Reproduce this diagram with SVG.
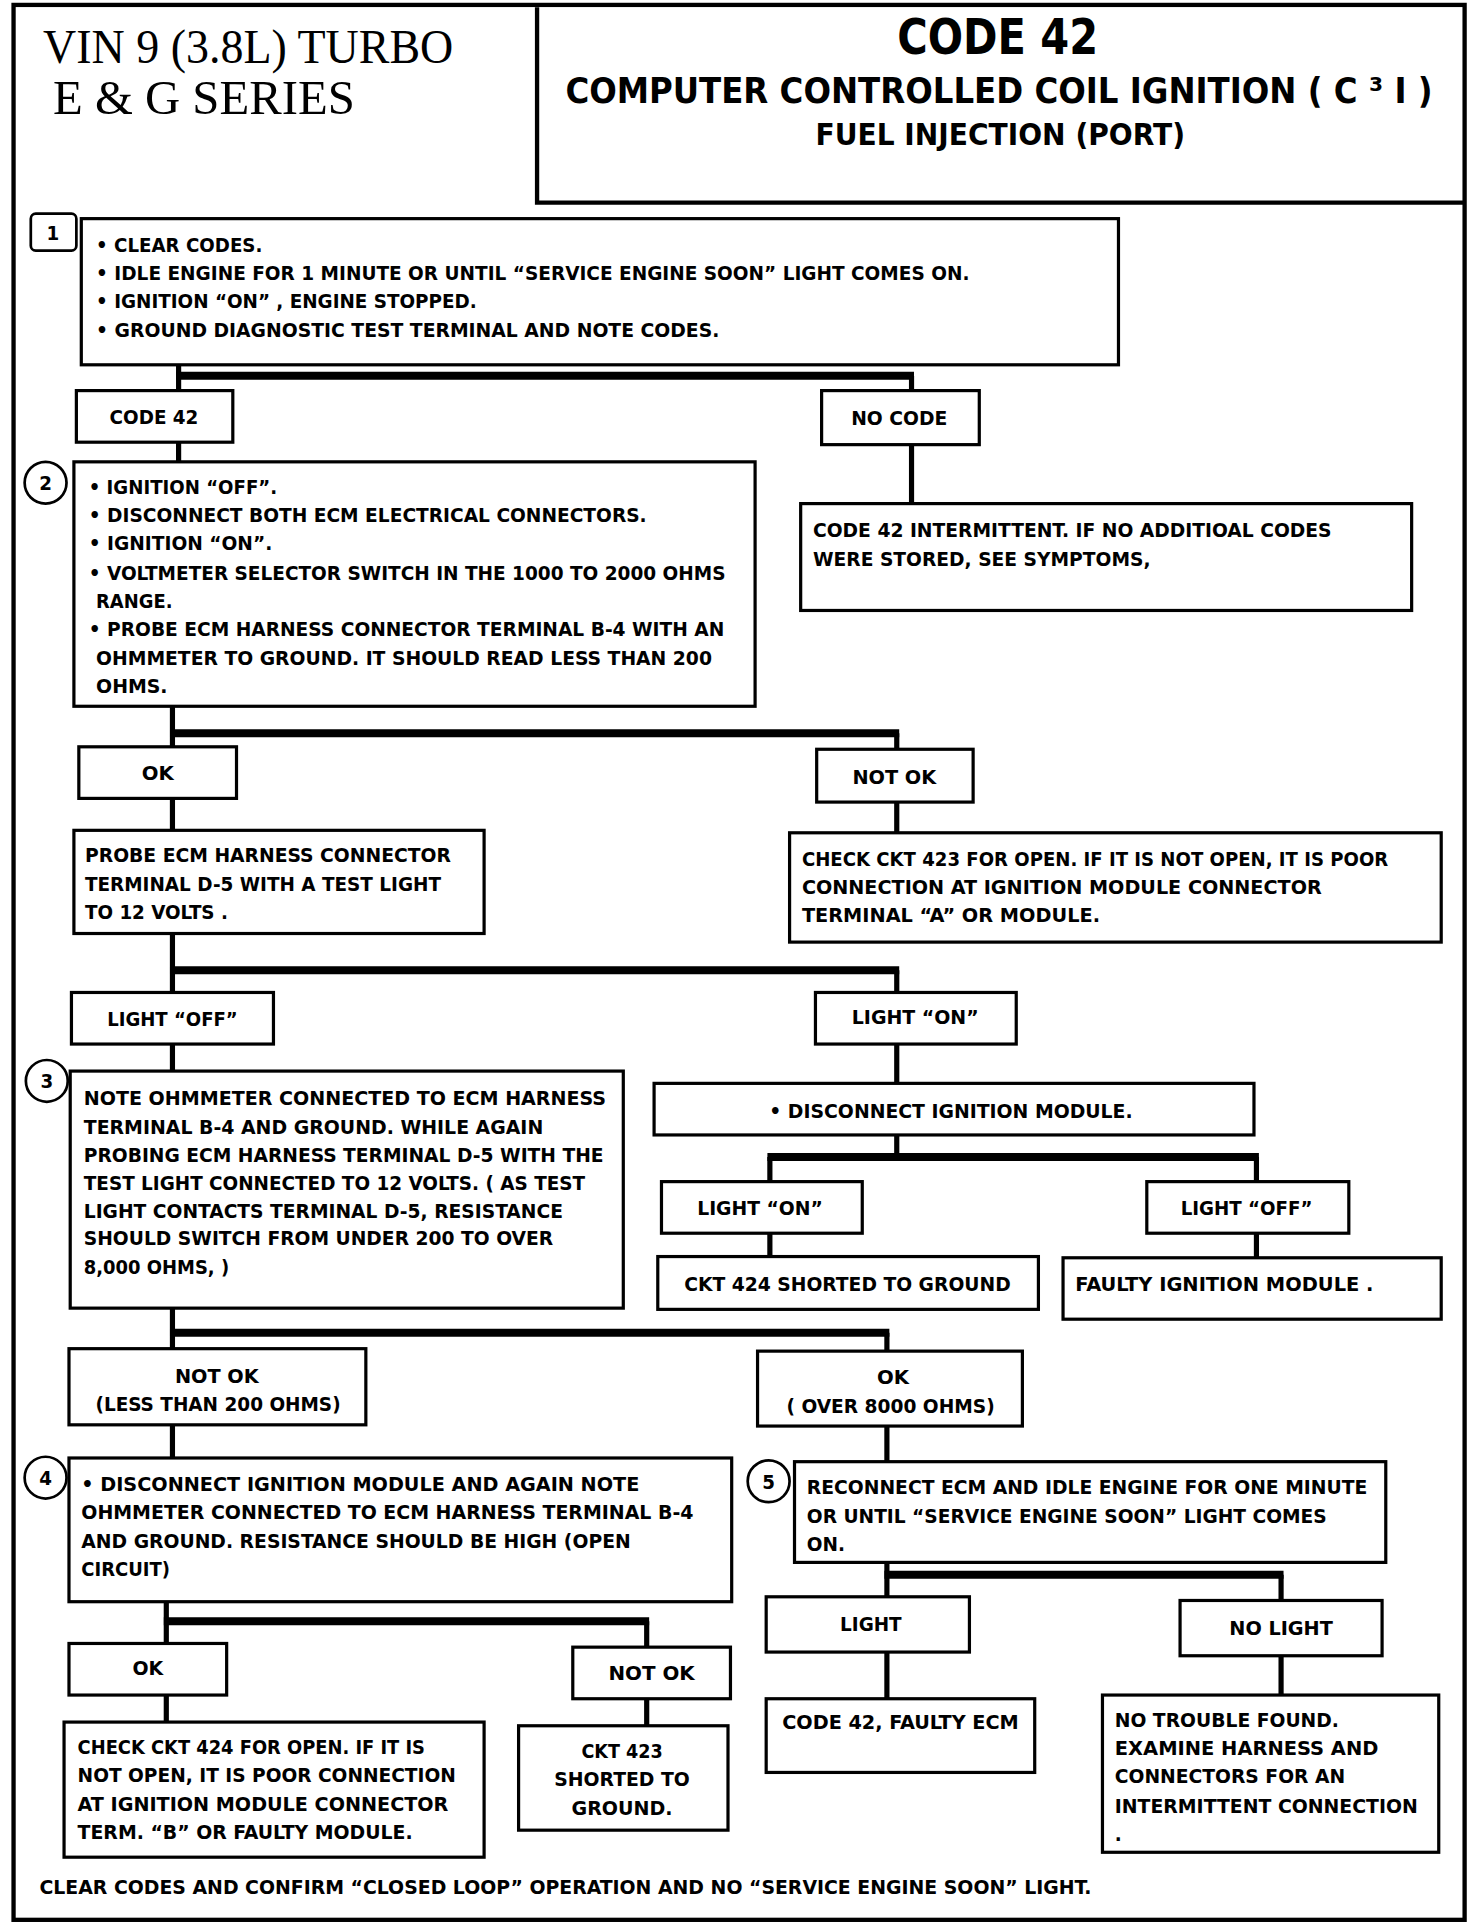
<svg xmlns="http://www.w3.org/2000/svg" width="1472" height="1926" viewBox="0 0 1472 1926">
<style>
.box{fill:#fff;stroke:#000;stroke-width:2.6}
.frame{fill:none;stroke:#000;stroke-width:3.5}
.t{font-family:"DejaVu Sans Condensed","DejaVu Sans","Liberation Sans",sans-serif;font-weight:bold;font-size:16.5px;fill:#000}
.m{text-anchor:middle}
.hd{font-family:"DejaVu Sans Condensed","DejaVu Sans","Liberation Sans",sans-serif;font-weight:bold;fill:#000}
.sf{font-family:"Liberation Serif","DejaVu Serif",serif;font-size:39px;fill:#000}
.v{stroke:#000;stroke-width:4.2;fill:none}
.bus{stroke:#000;stroke-width:6.5;fill:none}
.step{fill:#fff;stroke:#000;stroke-width:2.2}
</style>
<rect width="1472" height="1926" fill="#fff"/>
<g transform="scale(1.2318 1.2283)">
<g id="frame">
<rect class="frame" x="11" y="4" width="1178" height="1559"/>
<path class="frame" d="M436 6 V165 H1189"/>
</g>
<g id="header">
<text class="sf" x="35" y="51" textLength="333" lengthAdjust="spacingAndGlyphs">VIN 9 (3.8L) TURBO</text>
<text class="sf" x="43" y="93" textLength="245" lengthAdjust="spacingAndGlyphs">E &amp; G SERIES</text>
<text class="hd m" x="810" y="44" font-size="40" textLength="163" lengthAdjust="spacingAndGlyphs">CODE 42</text>
<text class="hd" x="459" y="84" font-size="28.5" textLength="704" lengthAdjust="spacingAndGlyphs">COMPUTER CONTROLLED COIL IGNITION ( C ³ I )</text>
<text class="hd m" x="812" y="118" font-size="25" textLength="300" lengthAdjust="spacingAndGlyphs">FUEL INJECTION (PORT)</text>
</g>
<g id="connectors">
<path class="v" d="M145 297 V318 M740 306 V318"/><path class="bus" d="M143 306 H742"/>
<path class="v" d="M145 360 V376"/>
<path class="v" d="M740 362 V410"/>
<path class="v" d="M140 575 V608 M728 597 V610"/><path class="bus" d="M138 597 H730"/>
<path class="v" d="M140 650 V676 M728 653 V678"/>
<path class="v" d="M140 760 V808 M728 790 V808"/><path class="bus" d="M138 790 H730"/>
<path class="v" d="M140 850 V872 M728 850 V882"/>
<path class="v" d="M728 924 V942 M625 942 V962 M1020 942 V962"/><path class="bus" d="M623 942 H1022"/>
<path class="v" d="M625 1004 V1023 M1020 1004 V1024"/>
<path class="v" d="M140 1065 V1098 M720 1085 V1100"/><path class="bus" d="M138 1085 H722"/>
<path class="v" d="M140 1160 V1187 M720 1161 V1190"/>
<path class="v" d="M135 1304 V1338 M525 1320 V1341"/><path class="bus" d="M133 1320 H527"/>
<path class="v" d="M135 1380 V1402 M525 1383 V1405"/>
<path class="v" d="M720 1272 V1300 M1040 1282 V1303"/><path class="bus" d="M718 1282 H1042"/>
<path class="v" d="M720 1345 V1383 M1040 1348 V1380"/>
</g>
<g id="step1">
<rect class="step" x="25" y="174" width="37" height="30" rx="4"/>
<text class="t m" x="43" y="195">1</text>
</g>
<g id="box1">
<rect class="box" x="66" y="178" width="842" height="119"/>
<text class="t" x="78" y="205" textLength="135" lengthAdjust="spacingAndGlyphs">• CLEAR CODES.</text>
<text class="t" x="78" y="228" textLength="709" lengthAdjust="spacingAndGlyphs">• IDLE ENGINE FOR 1 MINUTE OR UNTIL “SERVICE ENGINE SOON” LIGHT COMES ON.</text>
<text class="t" x="78" y="251" textLength="309" lengthAdjust="spacingAndGlyphs">• IGNITION “ON” , ENGINE STOPPED.</text>
<text class="t" x="78" y="274" textLength="506" lengthAdjust="spacingAndGlyphs">• GROUND DIAGNOSTIC TEST TERMINAL AND NOTE CODES.</text>
</g>
<g id="code42">
<rect class="box" x="62" y="318" width="127" height="42"/>
<text class="t m" x="125" y="345" textLength="72" lengthAdjust="spacingAndGlyphs">CODE 42</text>
</g>
<g id="nocode">
<rect class="box" x="667" y="318" width="128" height="44"/>
<text class="t m" x="730" y="346" textLength="78" lengthAdjust="spacingAndGlyphs">NO CODE</text>
</g>
<g id="intermittent">
<rect class="box" x="650" y="410" width="496" height="87"/>
<text class="t" x="660" y="437" textLength="421" lengthAdjust="spacingAndGlyphs">CODE 42 INTERMITTENT. IF NO ADDITIOAL CODES</text>
<text class="t" x="660" y="461" textLength="274" lengthAdjust="spacingAndGlyphs">WERE STORED, SEE SYMPTOMS,</text>
</g>
<g id="step2">
<circle class="step" cx="37" cy="393" r="17"/>
<text class="t m" x="37" y="399">2</text>
</g>
<g id="box2">
<rect class="box" x="60" y="376" width="553" height="199"/>
<text class="t" x="72" y="402" textLength="153" lengthAdjust="spacingAndGlyphs">• IGNITION “OFF”.</text>
<text class="t" x="72" y="425" textLength="453" lengthAdjust="spacingAndGlyphs">• DISCONNECT BOTH ECM ELECTRICAL CONNECTORS.</text>
<text class="t" x="72" y="448" textLength="149" lengthAdjust="spacingAndGlyphs">• IGNITION “ON”.</text>
<text class="t" x="72" y="472" textLength="517" lengthAdjust="spacingAndGlyphs">• VOLTMETER SELECTOR SWITCH IN THE 1000 TO 2000 OHMS</text>
<text class="t" x="78" y="495" textLength="62" lengthAdjust="spacingAndGlyphs">RANGE.</text>
<text class="t" x="72" y="518" textLength="516" lengthAdjust="spacingAndGlyphs">• PROBE ECM HARNESS CONNECTOR TERMINAL B-4 WITH AN</text>
<text class="t" x="78" y="541" textLength="500" lengthAdjust="spacingAndGlyphs">OHMMETER TO GROUND. IT SHOULD READ LESS THAN 200</text>
<text class="t" x="78" y="564" textLength="58" lengthAdjust="spacingAndGlyphs">OHMS.</text>
</g>
<g id="ok1">
<rect class="box" x="64" y="608" width="128" height="42"/>
<text class="t m" x="128" y="635" textLength="26" lengthAdjust="spacingAndGlyphs">OK</text>
</g>
<g id="notok1">
<rect class="box" x="663" y="610" width="127" height="43"/>
<text class="t m" x="726" y="638" textLength="68" lengthAdjust="spacingAndGlyphs">NOT OK</text>
</g>
<g id="probe">
<rect class="box" x="60" y="676" width="333" height="84"/>
<text class="t" x="69" y="702" textLength="297" lengthAdjust="spacingAndGlyphs">PROBE ECM HARNESS CONNECTOR</text>
<text class="t" x="69" y="725" textLength="289" lengthAdjust="spacingAndGlyphs">TERMINAL D-5 WITH A TEST LIGHT</text>
<text class="t" x="69" y="748" textLength="116" lengthAdjust="spacingAndGlyphs">TO 12 VOLTS .</text>
</g>
<g id="check423">
<rect class="box" x="641" y="678" width="529" height="89"/>
<text class="t" x="651" y="705" textLength="476" lengthAdjust="spacingAndGlyphs">CHECK CKT 423 FOR OPEN. IF IT IS NOT OPEN, IT IS POOR</text>
<text class="t" x="651" y="728" textLength="422" lengthAdjust="spacingAndGlyphs">CONNECTION AT IGNITION MODULE CONNECTOR</text>
<text class="t" x="651" y="751" textLength="242" lengthAdjust="spacingAndGlyphs">TERMINAL “A” OR MODULE.</text>
</g>
<g id="lightoff1">
<rect class="box" x="58" y="808" width="164" height="42"/>
<text class="t m" x="140" y="835" textLength="106" lengthAdjust="spacingAndGlyphs">LIGHT “OFF”</text>
</g>
<g id="lighton1">
<rect class="box" x="662" y="808" width="163" height="42"/>
<text class="t m" x="743" y="834" textLength="103" lengthAdjust="spacingAndGlyphs">LIGHT “ON”</text>
</g>
<g id="step3">
<circle class="step" cx="38" cy="880" r="17"/>
<text class="t m" x="38" y="886">3</text>
</g>
<g id="box3">
<rect class="box" x="57" y="872" width="449" height="193"/>
<text class="t" x="68" y="900" textLength="424" lengthAdjust="spacingAndGlyphs">NOTE OHMMETER CONNECTED TO ECM HARNESS</text>
<text class="t" x="68" y="923" textLength="373" lengthAdjust="spacingAndGlyphs">TERMINAL B-4 AND GROUND. WHILE AGAIN</text>
<text class="t" x="68" y="946" textLength="422" lengthAdjust="spacingAndGlyphs">PROBING ECM HARNESS TERMINAL D-5 WITH THE</text>
<text class="t" x="68" y="969" textLength="407" lengthAdjust="spacingAndGlyphs">TEST LIGHT CONNECTED TO 12 VOLTS. ( AS TEST</text>
<text class="t" x="68" y="992" textLength="389" lengthAdjust="spacingAndGlyphs">LIGHT CONTACTS TERMINAL D-5, RESISTANCE</text>
<text class="t" x="68" y="1014" textLength="381" lengthAdjust="spacingAndGlyphs">SHOULD SWITCH FROM UNDER 200 TO OVER</text>
<text class="t" x="68" y="1037" textLength="118" lengthAdjust="spacingAndGlyphs">8,000 OHMS, )</text>
</g>
<g id="disconnect">
<rect class="box" x="531" y="882" width="487" height="42"/>
<text class="t m" x="772" y="910" textLength="295" lengthAdjust="spacingAndGlyphs">• DISCONNECT IGNITION MODULE.</text>
</g>
<g id="lighton2">
<rect class="box" x="537" y="962" width="163" height="42"/>
<text class="t m" x="617" y="989" textLength="102" lengthAdjust="spacingAndGlyphs">LIGHT “ON”</text>
</g>
<g id="lightoff2">
<rect class="box" x="931" y="962" width="164" height="42"/>
<text class="t m" x="1012" y="989" textLength="107" lengthAdjust="spacingAndGlyphs">LIGHT “OFF”</text>
</g>
<g id="ckt424short">
<rect class="box" x="534" y="1023" width="309" height="43"/>
<text class="t m" x="688" y="1051" textLength="265" lengthAdjust="spacingAndGlyphs">CKT 424 SHORTED TO GROUND</text>
</g>
<g id="faultymodule">
<rect class="box" x="863" y="1024" width="307" height="50"/>
<text class="t" x="873" y="1051" textLength="242" lengthAdjust="spacingAndGlyphs">FAULTY IGNITION MODULE .</text>
</g>
<g id="notok2">
<rect class="box" x="56" y="1098" width="241" height="62"/>
<text class="t m" x="176" y="1126" textLength="68" lengthAdjust="spacingAndGlyphs">NOT OK</text>
<text class="t m" x="177" y="1149" textLength="199" lengthAdjust="spacingAndGlyphs">(LESS THAN 200 OHMS)</text>
</g>
<g id="ok2">
<rect class="box" x="615" y="1100" width="215" height="61"/>
<text class="t m" x="725" y="1127" textLength="26" lengthAdjust="spacingAndGlyphs">OK</text>
<text class="t m" x="723" y="1150" textLength="169" lengthAdjust="spacingAndGlyphs">( OVER 8000 OHMS)</text>
</g>
<g id="step4">
<circle class="step" cx="37" cy="1203" r="17"/>
<text class="t m" x="37" y="1209">4</text>
</g>
<g id="box4">
<rect class="box" x="56" y="1187" width="538" height="117"/>
<text class="t" x="66" y="1214" textLength="453" lengthAdjust="spacingAndGlyphs">• DISCONNECT IGNITION MODULE AND AGAIN  NOTE</text>
<text class="t" x="66" y="1237" textLength="497" lengthAdjust="spacingAndGlyphs">OHMMETER CONNECTED TO ECM HARNESS TERMINAL B-4</text>
<text class="t" x="66" y="1260" textLength="446" lengthAdjust="spacingAndGlyphs">AND GROUND. RESISTANCE SHOULD BE HIGH (OPEN</text>
<text class="t" x="66" y="1283" textLength="72" lengthAdjust="spacingAndGlyphs">CIRCUIT)</text>
</g>
<g id="step5">
<circle class="step" cx="624" cy="1206" r="17"/>
<text class="t m" x="624" y="1212">5</text>
</g>
<g id="box5">
<rect class="box" x="645" y="1190" width="480" height="82"/>
<text class="t" x="655" y="1216" textLength="455" lengthAdjust="spacingAndGlyphs">RECONNECT ECM AND IDLE ENGINE FOR ONE MINUTE</text>
<text class="t" x="655" y="1240" textLength="422" lengthAdjust="spacingAndGlyphs">OR UNTIL “SERVICE ENGINE SOON” LIGHT COMES</text>
<text class="t" x="655" y="1263" textLength="31" lengthAdjust="spacingAndGlyphs">ON.</text>
</g>
<g id="ok3">
<rect class="box" x="56" y="1338" width="128" height="42"/>
<text class="t m" x="120" y="1364" textLength="25" lengthAdjust="spacingAndGlyphs">OK</text>
</g>
<g id="notok3">
<rect class="box" x="465" y="1341" width="128" height="42"/>
<text class="t m" x="529" y="1368" textLength="70" lengthAdjust="spacingAndGlyphs">NOT OK</text>
</g>
<g id="check424">
<rect class="box" x="52" y="1402" width="341" height="110"/>
<text class="t" x="63" y="1428" textLength="282" lengthAdjust="spacingAndGlyphs">CHECK CKT 424 FOR OPEN. IF IT IS</text>
<text class="t" x="63" y="1451" textLength="307" lengthAdjust="spacingAndGlyphs">NOT OPEN, IT IS POOR CONNECTION</text>
<text class="t" x="63" y="1474" textLength="301" lengthAdjust="spacingAndGlyphs">AT IGNITION MODULE CONNECTOR</text>
<text class="t" x="63" y="1497" textLength="272" lengthAdjust="spacingAndGlyphs">TERM. “B” OR FAULTY MODULE.</text>
</g>
<g id="ckt423">
<rect class="box" x="421" y="1405" width="170" height="85"/>
<text class="t m" x="505" y="1431" textLength="66" lengthAdjust="spacingAndGlyphs">CKT 423</text>
<text class="t m" x="505" y="1454" textLength="110" lengthAdjust="spacingAndGlyphs">SHORTED TO</text>
<text class="t m" x="505" y="1478" textLength="82" lengthAdjust="spacingAndGlyphs">GROUND.</text>
</g>
<g id="light">
<rect class="box" x="622" y="1300" width="165" height="45"/>
<text class="t m" x="707" y="1328" textLength="50" lengthAdjust="spacingAndGlyphs">LIGHT</text>
</g>
<g id="nolight">
<rect class="box" x="958" y="1303" width="164" height="45"/>
<text class="t m" x="1040" y="1331" textLength="84" lengthAdjust="spacingAndGlyphs">NO LIGHT</text>
</g>
<g id="faultyecm">
<rect class="box" x="622" y="1383" width="218" height="60"/>
<text class="t" x="635" y="1408" textLength="192" lengthAdjust="spacingAndGlyphs">CODE 42, FAULTY ECM</text>
</g>
<g id="notrouble">
<rect class="box" x="895" y="1380" width="273" height="128"/>
<text class="t" x="905" y="1406" textLength="182" lengthAdjust="spacingAndGlyphs">NO TROUBLE FOUND.</text>
<text class="t" x="905" y="1429" textLength="214" lengthAdjust="spacingAndGlyphs">EXAMINE  HARNESS AND</text>
<text class="t" x="905" y="1452" textLength="187" lengthAdjust="spacingAndGlyphs">CONNECTORS FOR AN</text>
<text class="t" x="905" y="1476" textLength="246" lengthAdjust="spacingAndGlyphs">INTERMITTENT CONNECTION</text>
<text class="t" x="905" y="1499">.</text>
</g>
<g id="footer">
<text class="t" x="32" y="1542" textLength="854" lengthAdjust="spacingAndGlyphs">CLEAR CODES AND CONFIRM “CLOSED LOOP” OPERATION AND NO “SERVICE ENGINE SOON” LIGHT.</text>
</g>
</g>
</svg>
